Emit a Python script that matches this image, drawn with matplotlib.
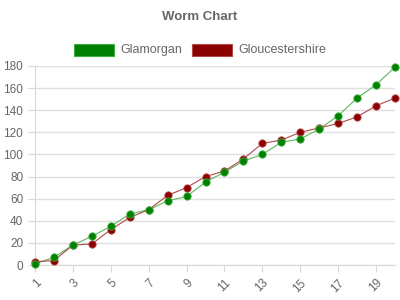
import matplotlib.pyplot as plt

overs = list(range(1, 21))
glamorgan = [1, 7, 18, 26, 35, 46, 50, 58, 62, 75, 84, 94, 100, 111, 114, 123, 135, 151, 163, 179]
gloucs = [3, 4, 18, 19, 32, 43, 50, 63, 70, 80, 85, 96, 110, 113, 120, 124, 128, 134, 144, 151]
xticks = [1, 3, 5, 7, 9, 11, 13, 15, 17, 19]
yticks = [0, 20, 40, 60, 80, 100, 120, 140, 160, 180]

plt.rcParams['font.family'] = ['Liberation Sans', 'DejaVu Sans']
fig = plt.figure(figsize=(4, 3), dpi=100)
ax = fig.add_axes([35/400, 35/300, 360/400, 199/300])

ax.plot(overs, glamorgan, color='#5cb85c', lw=0.8, zorder=3, clip_on=False)
ax.plot(overs, gloucs, color='#b04a4a', lw=0.8, zorder=3, clip_on=False)
ax.scatter(overs, gloucs, s=28, color='#8b0000', edgecolor='#b04a4a', lw=0.6, zorder=4, clip_on=False)
ax.scatter(overs, glamorgan, s=28, color='#008000', edgecolor='#3cb03c', lw=0.6, zorder=5, clip_on=False)

ax.set_xlim(1, 20)
ax.set_ylim(0, 180)
ax.set_xticks(xticks)
ax.set_xticklabels([str(t) for t in xticks], rotation=45, ha='right', rotation_mode='anchor')
ax.set_yticks(yticks)
ax.grid(axis='y', color='#e0e0e0', lw=1)
ax.set_axisbelow(True)
for s in ['top', 'right']:
    ax.spines[s].set_visible(False)
for s in ['left', 'bottom']:
    ax.spines[s].set_color('#d8d8d8')
ax.tick_params(colors='#d8d8d8', labelcolor='#666666', labelsize=8.5, length=5)

fig.text(0.5, 1 - 17/300, 'Worm Chart', ha='center', va='center', fontsize=9.5, fontweight='bold', color='#666666')

# legend boxes
fig.patches.append(plt.Rectangle((74/400, 1 - 56/300), 40/400, 12/300, transform=fig.transFigure,
                                 facecolor='#008000', edgecolor='#3cb03c', lw=0.8))
fig.text(120/400, 1 - 50/300, 'Glamorgan', va='center', fontsize=9, color='#666666')
fig.patches.append(plt.Rectangle((192/400, 1 - 56/300), 40/400, 12/300, transform=fig.transFigure,
                                 facecolor='#8b0000', edgecolor='#b04a4a', lw=0.8))
fig.text(238/400, 1 - 50/300, 'Gloucestershire', va='center', fontsize=9, color='#666666')

fig.savefig('out.png', dpi=100)
